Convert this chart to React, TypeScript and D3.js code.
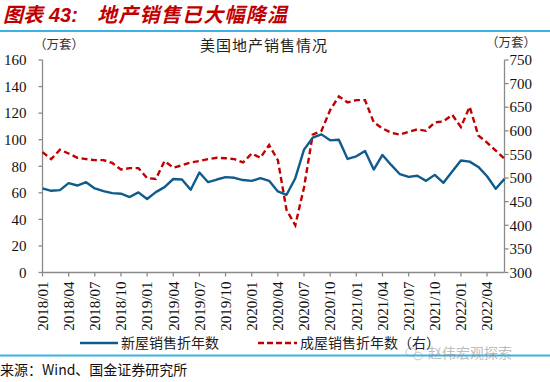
import React from "react";
import * as d3 from "d3";

const tickLabels = [
  "2018/01", "2018/04", "2018/07", "2018/10",
  "2019/01", "2019/04", "2019/07", "2019/10",
  "2020/01", "2020/04", "2020/07", "2020/10",
  "2021/01", "2021/04", "2021/07", "2021/10",
  "2022/01", "2022/04",
];

// monthly categories 2018/01 .. 2022/06
const months: string[] = d3
  .timeMonth.range(new Date(2018, 0, 1), new Date(2022, 6, 1))
  .map((d) => d3.timeFormat("%Y/%m")(d));

// 新屋销售折年数 (万套, left axis)
const newHome = [
  63.3, 61.5, 62, 67.3, 65.5, 68, 63.3, 61.3, 59.8, 59.3, 56.8, 60.3,
  55.3, 60.5, 64.3, 70.4, 70, 62.3, 75.3, 68, 70, 71.8, 71.3, 69.6,
  69, 71, 69, 61, 58.5, 71, 92.5, 101.5, 104, 99.5, 100, 85.5,
  87.5, 91.5, 77.5, 88.5, 81, 74, 72, 72.8, 69, 73.5, 67.5, 76,
  84.3, 83.5, 79.5, 72.5, 63, 70.5,
];

// 成屋销售折年数 (万套, right axis)
const existingHome = [
  555, 540, 560, 552, 543, 540, 538, 538, 532, 518, 521, 521,
  500, 498, 536, 522, 527, 533, 536, 540, 543, 542, 540, 533,
  552, 543, 570, 538, 432, 400, 480, 592, 600, 644, 673, 660,
  665, 665, 618, 605, 596, 592, 598, 603, 600, 618, 620, 634,
  608, 651, 590, 575, 558, 541,
];

const leftTicks = [0, 20, 40, 60, 80, 100, 120, 140, 160];
const rightTicks = [300, 350, 400, 450, 500, 550, 600, 650, 700, 750];

const W = 550;
const H = 382;
const plot = { left: 42.5, right: 504.5, top: 60, bottom: 272.5 };

const BLUE = "#0F5B8E";
const RED = "#C00000";
const AXIS = "#8A8A8A";
const CJK = "'Noto Sans CJK SC', 'Noto Sans', sans-serif";
const SERIF = "'Liberation Serif', 'DejaVu Serif', serif";

export default function App() {
  const x = d3.scalePoint<string>().domain(months).range([plot.left, plot.right]);
  const yL = d3.scaleLinear().domain([0, 160]).range([plot.bottom, plot.top]);
  const yR = d3.scaleLinear().domain([300, 750]).range([plot.bottom, plot.top]);

  const lineL = d3
    .line<number>()
    .x((_, i) => x(months[i]) as number)
    .y((d) => yL(d));
  const lineR = d3
    .line<number>()
    .x((_, i) => x(months[i]) as number)
    .y((d) => yR(d));

  return (
    <svg
      width={W}
      height={H}
      style={{ position: "absolute", left: 0, top: 0, background: "#fff" }}
    >
      {/* Header */}
      <text
        y={22}
        fill={RED}
        fontWeight="bold"
        fontStyle="italic"
        fontSize={20}
      >
        <tspan x={3} fontFamily={CJK}>图表</tspan>
        <tspan x={49} fontFamily="'Liberation Sans', Arial, sans-serif">43:</tspan>
        <tspan x={97} fontFamily={CJK} textLength={190} lengthAdjust="spacing">
          地产销售已大幅降温
        </tspan>
      </text>
      <line x1={0} x2={W} y1={31} y2={31} stroke="#3DB2E3" strokeWidth={2} />

      {/* Chart title & units */}
      <text x={200} y={51} fontFamily={CJK} fontSize={15} letterSpacing={1} fill="#222">
        美国地产销售情况
      </text>
      <text x={34} y={49} fontFamily={CJK} fontSize={12.5} fill="#333">
        （万套）
      </text>
      <text x={486} y={47} fontFamily={CJK} fontSize={12.5} fill="#333">
        （万套）
      </text>

      {/* Axes */}
      <line x1={plot.left} x2={plot.left} y1={plot.top} y2={plot.bottom} stroke={AXIS} strokeWidth={1.3} />
      <line x1={plot.right} x2={plot.right} y1={plot.top} y2={plot.bottom} stroke={AXIS} strokeWidth={1.3} />
      <line x1={plot.left} x2={plot.right} y1={plot.bottom} y2={plot.bottom} stroke={AXIS} strokeWidth={1.3} />

      {leftTicks.map((t) => (
        <g key={"l" + t}>
          <line x1={plot.left - 4} x2={plot.left} y1={yL(t)} y2={yL(t)} stroke={AXIS} strokeWidth={1.3} />
          <text
            x={plot.left - 16}
            y={yL(t)}
            dy="0.35em"
            textAnchor="end"
            fontFamily={SERIF}
            fontSize={15}
            fill="#111"
          >
            {t}
          </text>
        </g>
      ))}
      {rightTicks.map((t) => (
        <g key={"r" + t}>
          <line x1={plot.right} x2={plot.right + 4} y1={yR(t)} y2={yR(t)} stroke={AXIS} strokeWidth={1.3} />
          <text
            x={plot.right + 5}
            y={yR(t)}
            dy="0.35em"
            textAnchor="start"
            fontFamily={SERIF}
            fontSize={15}
            fill="#111"
          >
            {t}
          </text>
        </g>
      ))}
      {tickLabels.map((t) => {
        const px = x(t) as number;
        return (
          <g key={"x" + t}>
            <line x1={px} x2={px} y1={plot.bottom} y2={plot.bottom + 4} stroke={AXIS} strokeWidth={1.3} />
            <text
              transform={`translate(${px},${plot.bottom + 9}) rotate(-90)`}
              dy="0.35em"
              textAnchor="end"
              fontFamily={SERIF}
              fontSize={15}
              fill="#111"
            >
              {t}
            </text>
          </g>
        );
      })}

      {/* Lines */}
      <path d={lineR(existingHome) || ""} fill="none" stroke={RED} strokeWidth={2.4} strokeDasharray="6,3.5" />
      <path d={lineL(newHome) || ""} fill="none" stroke={BLUE} strokeWidth={2.4} strokeLinejoin="round" />

      {/* Legend */}
      <line x1={80} x2={118} y1={343} y2={343} stroke={BLUE} strokeWidth={2.4} />
      <text x={121} y={343} dy="0.35em" fontFamily={CJK} fontSize={14} fill="#222">
        新屋销售折年数
      </text>
      <line x1={258} x2={297} y1={343} y2={343} stroke={RED} strokeWidth={2.4} strokeDasharray="6,3" />
      <text x={300} y={343} dy="0.35em" fontFamily={CJK} fontSize={14} fill="#222">
        成屋销售折年数（右）
      </text>

      {/* Footer */}
      <line x1={0} x2={W} y1={355.5} y2={355.5} stroke="#3DB2E3" strokeWidth={2} />
      <g opacity={0.55}>
        <ellipse cx={411} cy={352} rx={5} ry={4.2} fill="none" stroke="#999" strokeWidth={1} />
        <ellipse cx={418} cy={356} rx={4.5} ry={3.8} fill="none" stroke="#999" strokeWidth={1} />
        <text x={428} y={353} dy="0.35em" fontFamily={CJK} fontSize={14} fill="#888">
          赵伟宏观探索
        </text>
      </g>
      <text x={0} y={370} dy="0.35em" fontFamily={CJK} fontSize={14} fill="#111">
        来源：Wind、国金证券研究所
      </text>
    </svg>
  );
}
